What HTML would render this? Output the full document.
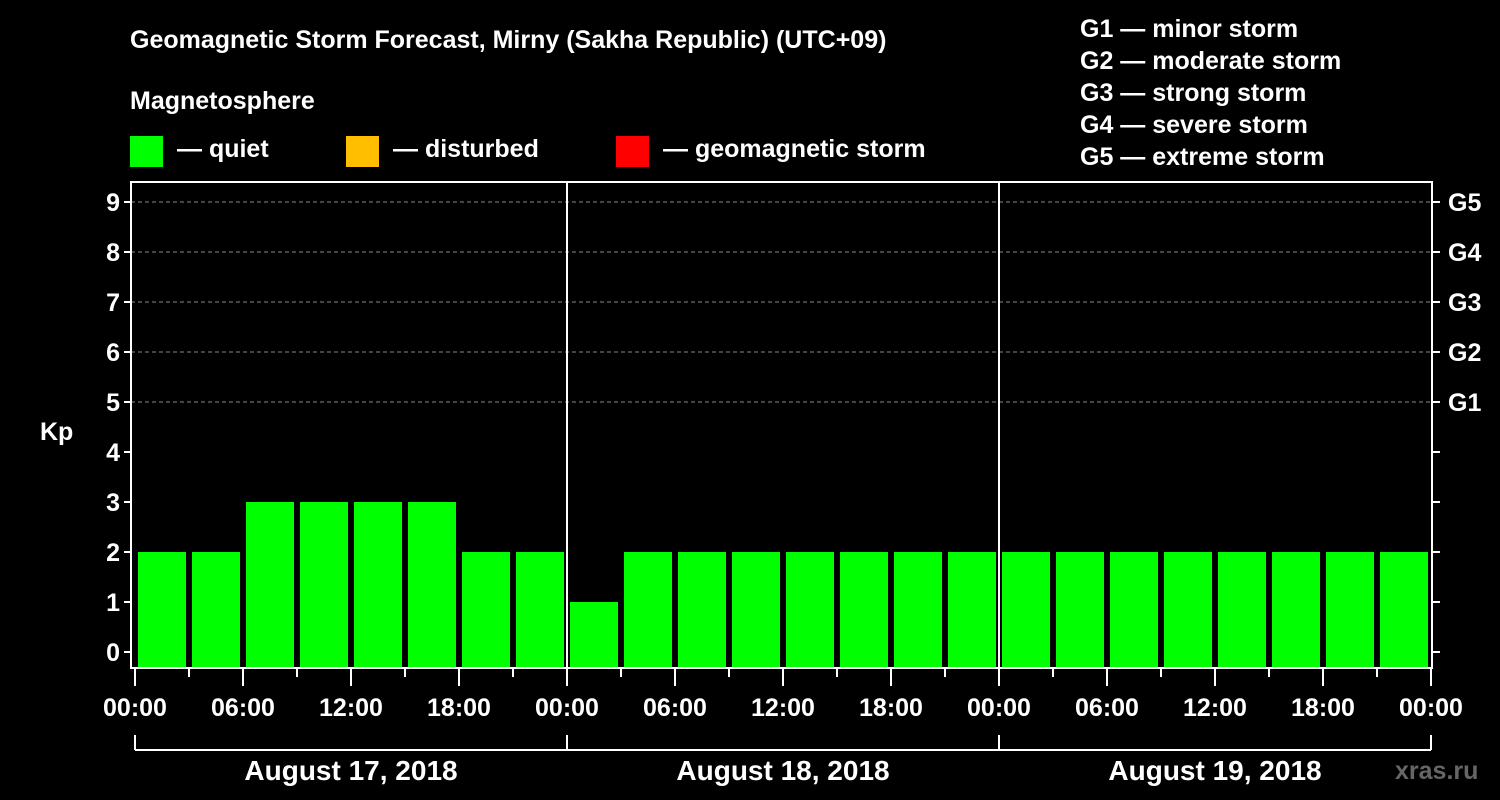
<!DOCTYPE html>
<html><head><meta charset="utf-8"><style>
html,body{margin:0;padding:0;background:#000;}
svg{display:block;font-family:"Liberation Sans",Arial,sans-serif;font-weight:bold;}
</style></head><body>
<svg id="chart" width="1500" height="800" viewBox="0 0 1500 800">
<rect width="1500" height="800" fill="#000"/>
<text x="130" y="48" fill="#fff" font-size="25">Geomagnetic Storm Forecast, Mirny (Sakha Republic) (UTC+09)</text>
<text x="130" y="109" fill="#fff" font-size="25">Magnetosphere</text>
<g><rect x="130" y="136" width="33" height="31" fill="#00ff00"/><text x="177" y="157" fill="#fff" font-size="25">— quiet</text></g>
<g><rect x="346" y="136" width="33" height="31" fill="#ffbf00"/><text x="393" y="157" fill="#fff" font-size="25">— disturbed</text></g>
<g><rect x="616" y="136" width="33" height="31" fill="#ff0000"/><text x="663" y="157" fill="#fff" font-size="25">— geomagnetic storm</text></g>
<g fill="#fff" font-size="25">
<text x="1080" y="37">G1 — minor storm</text>
<text x="1080" y="69">G2 — moderate storm</text>
<text x="1080" y="101">G3 — strong storm</text>
<text x="1080" y="133">G4 — severe storm</text>
<text x="1080" y="165">G5 — extreme storm</text>
</g>
<g id="grid"></g>
<g id="bars"></g>
<g id="axes"></g>
<text x="40" y="440" fill="#fff" font-size="25">Kp</text>
<text x="1395" y="779" fill="#666" font-size="25">xras.ru</text>
</svg>
<script>
const kpValues = [2,2,3,3,3,3,2,2, 1,2,2,2,2,2,2,2, 2,2,2,2,2,2,2,2];
const dayLabels = ["August 17, 2018","August 18, 2018","August 19, 2018"];
const hourLabels = ["00:00","06:00","12:00","18:00"];
const yTicks = [0,1,2,3,4,5,6,7,8,9];
const gLabels = ["G1","G2","G3","G4","G5"];
const NS="http://www.w3.org/2000/svg";
const X0=135, DAYW=432, L=131, R=1432, T=182, B=668;
const xs = h => X0 + h/24*DAYW;
const ys = v => 652 - v*50;
function mk(tag, attrs, parent){const e=document.createElementNS(NS,tag);for(const k in attrs)e.setAttribute(k,attrs[k]);parent.appendChild(e);return e;}
const grid=document.getElementById('grid'), bars=document.getElementById('bars'), axes=document.getElementById('axes');
for(let v=5;v<=9;v++){const l=mk('line',{x1:L,x2:R,y1:ys(v),y2:ys(v),stroke:'#888','stroke-dasharray':'4,3','stroke-width':1},grid);

}
kpValues.forEach((v,i)=>{
 const c = v>=5?'#ff0000':(v>=4?'#ffbf00':'#00ff00');
 const r=mk('rect',{x:xs(i*3)+3,y:ys(v),width:48,height:B-1-ys(v),fill:c},bars);
 
 
});
mk('rect',{x:L,y:T,width:R-L,height:B-T,fill:'none',stroke:'#fff','stroke-width':2},axes);
for(let d=1;d<dayLabels.length;d++){mk('line',{x1:xs(d*24),x2:xs(d*24),y1:T,y2:B,stroke:'#fff','stroke-width':2},axes);}
yTicks.forEach(v=>{
 mk('line',{x1:L-7,x2:L,y1:ys(v),y2:ys(v),stroke:'#fff','stroke-width':2},axes);
 mk('line',{x1:R,x2:R+8,y1:ys(v),y2:ys(v),stroke:'#fff','stroke-width':2},axes);
 const t=mk('text',{x:L-11,y:ys(v)+9,fill:'#fff','font-size':25,'text-anchor':'end'},axes);t.textContent=v;
 
 
});
gLabels.forEach((g,i)=>{
 const t=mk('text',{x:1448,y:ys(5+i)+9,fill:'#fff','font-size':25},axes);t.textContent=g;
 
 
});
const nDays=dayLabels.length;
for(let h=0;h<=nDays*24;h+=3){
 const major=h%6===0;
 mk('line',{x1:xs(h),x2:xs(h),y1:B,y2:major?686:677,stroke:'#fff','stroke-width':2},axes);
 if(major && (h%24)%6===0){
  const lab = (h===nDays*24)?hourLabels[0]:hourLabels[(h%24)/6];
  const t=mk('text',{x:xs(h),y:716,fill:'#fff','font-size':25,'text-anchor':'middle'},axes);t.textContent=lab;
  
  
 }
}
mk('line',{x1:xs(0),x2:xs(nDays*24),y1:750,y2:750,stroke:'#fff','stroke-width':2},axes);
for(let d=0;d<=nDays;d++)mk('line',{x1:xs(d*24),x2:xs(d*24),y1:735,y2:750,stroke:'#fff','stroke-width':2},axes);
dayLabels.forEach((d,i)=>{
 const t=mk('text',{x:xs(i*24+12),y:780,fill:'#fff','font-size':28,'text-anchor':'middle'},axes);t.textContent=d;
 
 
});
</script>
</body></html>
